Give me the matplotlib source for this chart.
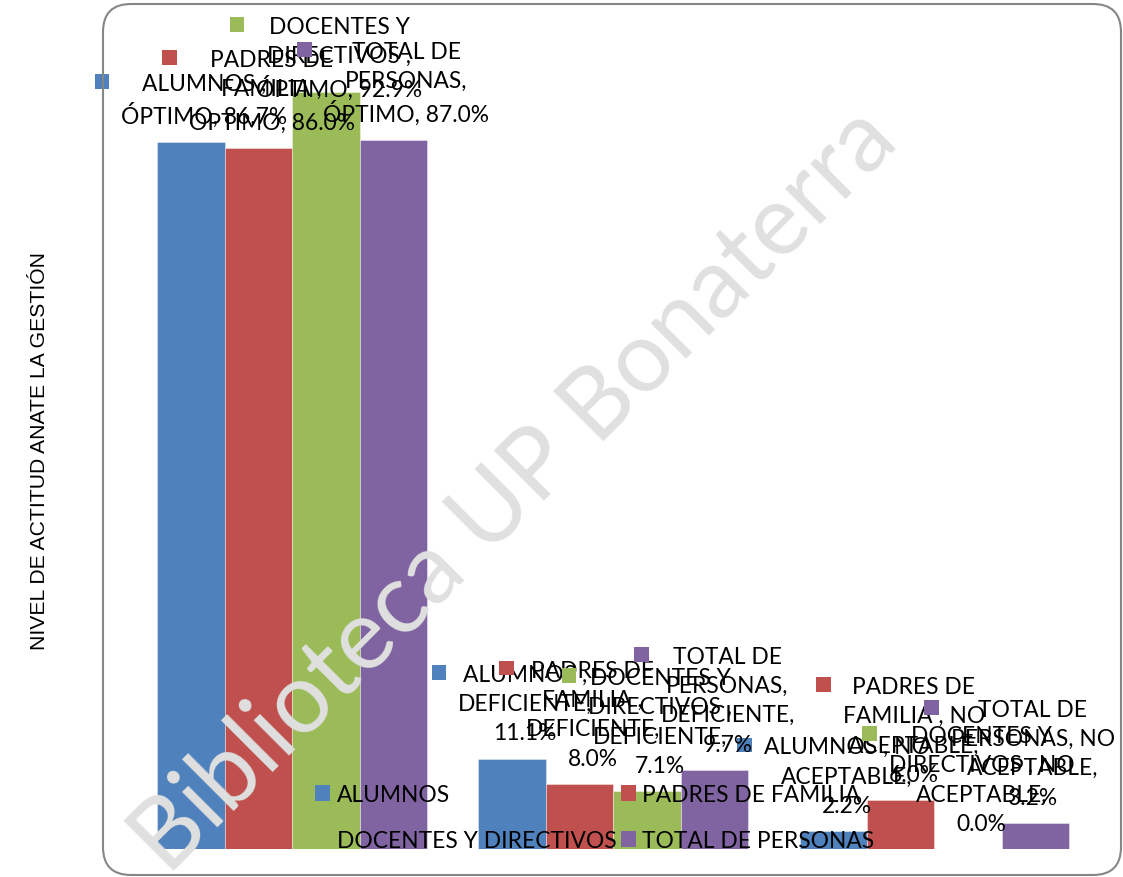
import matplotlib
matplotlib.use("Agg")
import matplotlib.pyplot as plt
import numpy as np
from matplotlib.font_manager import FontProperties
from matplotlib.offsetbox import AnnotationBbox, DrawingArea, HPacker, TextArea, VPacker
from matplotlib.patches import FancyBboxPatch, Patch, Rectangle
from matplotlib.transforms import IdentityTransform

# Data
categories = ["ÓPTIMO", "DEFICIENTE", "NO ACEPTABLE"]
series = ["ALUMNOS", "PADRES DE FAMILIA", "DOCENTES Y DIRECTIVOS", "TOTAL DE PERSONAS"]
alumnos = [86.7, 11.1, 2.2]
padres = [86.0, 8.0, 6.0]
docentes = [92.9, 7.1, 0.0]
total = [87.0, 9.7, 3.2]
colors = ["#4F81BD", "#C0504D", "#9BBB59", "#8064A2"]

# series names as Excel wrapped them inside the data labels
series_lines = [["ALUMNOS ,"], ["PADRES DE", "FAMILIA ,"],
                ["DOCENTES Y", "DIRECTIVOS ,"], ["TOTAL DE", "PERSONAS,"]]

WATERMARK = "Biblioteca UP Bonaterra"

FONT = "Lato"
FS = 16.4
DPI = 100
W, H = 1123, 878

fig = plt.figure(figsize=(W / DPI, H / DPI), dpi=DPI)
ax = fig.add_axes([131.5 / W, 28 / H, (1095 - 131.5) / W, 815 / H])
ax.patch.set_alpha(0)

values = [alumnos, padres, docentes, total]
x = np.arange(len(categories))
width = 0.21
bars = []
for i, vals in enumerate(values):
    b = ax.bar(x + (i - 1.5) * width, vals, width, color=colors[i],
               edgecolor=(1, 1, 1, 0.45), linewidth=0.6, label=series[i], zorder=2)
    bars.append(b)

ax.set_xlim(-0.5, 2.5)
ax.set_ylim(0, 100)
ax.set_xticks([])
ax.set_yticks([])
for s in ax.spines.values():
    s.set_visible(False)


def label_lines(i, j, v):
    lines = list(series_lines[i])
    pct = f"{v:.1f}%"
    if j == 0:
        lines.append(f"{categories[0]}, {pct}")
    elif j == 1:
        lines += [categories[1] + ",", pct]
    else:
        first, second = categories[2].split()
        lines[-1] += " " + first
        lines += [second + ",", pct]
    return lines


# data labels with legend key, like Excel
label_boxes = []
line_h = 16.0
for i, vals in enumerate(values):
    for j, v in enumerate(vals):
        key = DrawingArea(11, line_h, 0, 0)
        key.add_artist(Rectangle((0, line_h - 11.5), 10.5, 10.5, fc=colors[i], ec="none"))
        texts = [TextArea(t, textprops=dict(family=FONT, size=FS, color="black"))
                 for t in label_lines(i, j, v)]
        col = VPacker(children=texts, align="center", pad=0, sep=6)
        box = HPacker(children=[key, col], align="top", pad=0, sep=8)
        ab = AnnotationBbox(box, (x[j] + (i - 1.5) * width, v), xybox=(0, 11),
                            xycoords="data", boxcoords="offset points",
                            box_alignment=(0.5, 0), frameon=False, pad=0,
                            zorder=6, annotation_clip=False)
        ax.add_artist(ab)
        label_boxes.append(ab)

# watermark: size it so the baseline runs about 1037 px at 45 degrees
renderer = fig.canvas.get_renderer()
w72, _, _ = renderer.get_text_width_height_descent(
    WATERMARK, FontProperties(family=FONT, size=72), ismath=False)
wm_size = 72 * 1037 / w72
ax.text(168 / W, 1 / H, WATERMARK, transform=fig.transFigure,
        rotation=45, rotation_mode="anchor", ha="left", va="baseline",
        family=FONT, size=wm_size, color="#e0e0e0", zorder=4, clip_on=False)

# legend, row-wise order
order = [0, 2, 1, 3]
handles = [Patch(facecolor=colors[k]) for k in order]
fig.legend(handles, [series[k] for k in order], ncol=2,
           loc="upper left", bbox_to_anchor=(315 / W, 1 - 785 / H),
           frameon=False, prop=dict(family=FONT, size=FS),
           handlelength=0.65, handleheight=0.65, handletextpad=0.3,
           columnspacing=0.2, labelspacing=1.1, borderpad=0, borderaxespad=0)

fig.text(40 / W, 1 - 451 / H, "NIVEL DE ACTITUD ANATE LA GESTIÓN", rotation=90,
         ha="center", va="center", family="Liberation Sans", size=15.2)

# chart border
fig.add_artist(FancyBboxPatch((103, 2), 1018, 871, boxstyle="round,pad=0,rounding_size=28",
                              transform=IdentityTransform(), fill=False,
                              ec="#868686", lw=1.5))

# keep labels inside the chart area, as Excel does
fig.canvas.draw()
renderer = fig.canvas.get_renderer()
top_limit = fig.bbox.height - 17
right_limit = fig.bbox.width - 8
for ab in label_boxes:
    bb = ab.get_window_extent(renderer)
    dx, dy = ab.xybox
    if bb.y1 > top_limit:
        dy -= (bb.y1 - top_limit) * 72 / DPI
    if bb.x1 > right_limit:
        dx -= (bb.x1 - right_limit) * 72 / DPI
    ab.xybox = (dx, dy)

fig.savefig("out.png", dpi=DPI)
